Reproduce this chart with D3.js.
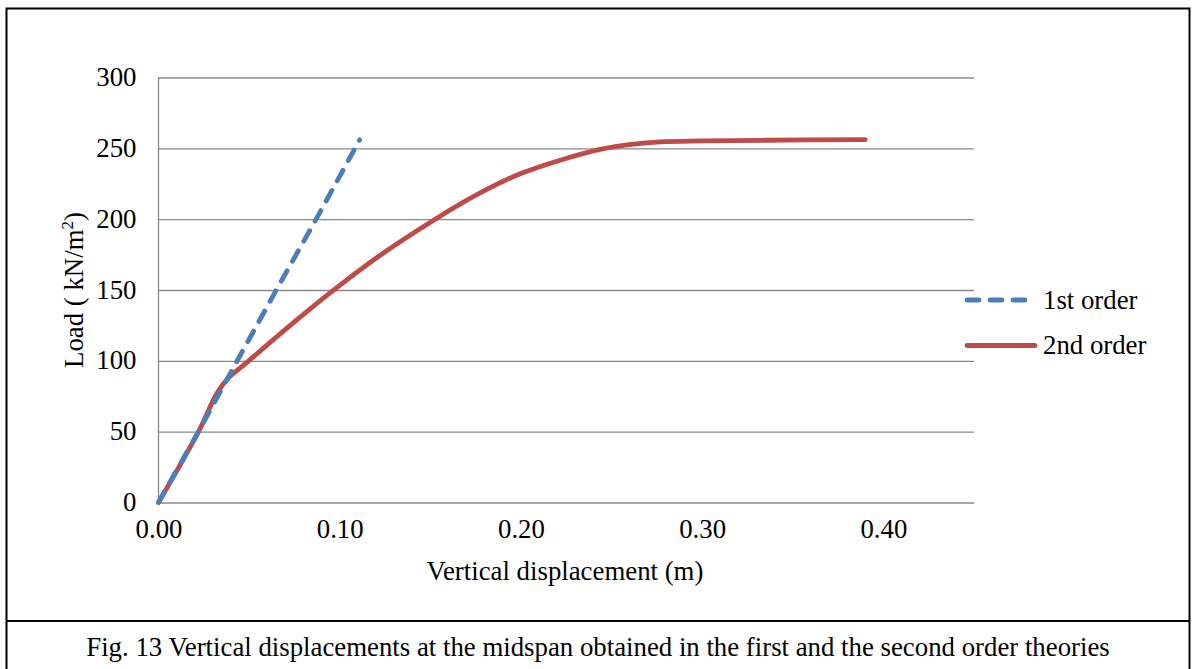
<!DOCTYPE html>
<html>
<head>
<meta charset="utf-8">
<script src="https://cdn.jsdelivr.net/npm/d3@7"></script>
<style>
  body { margin: 0; background: #fff; }
  text { font-family: "Liberation Serif", "Times New Roman", serif; fill: #000; }
</style>
</head>
<body>
<svg id="chart" width="1196" height="669"></svg>
<script>
// values
var firstX  = [0, 0.022, 0.0434, 0.065, 0.087, 0.111];
var firstY  = [0, 50, 100, 150, 200, 256];
var secondX = [0, 0.0221, 0.0322, 0.0386, 0.047, 0.0543, 0.0755, 0.0957, 0.1223, 0.1527, 0.1775, 0.1996, 0.2217, 0.2437, 0.2621, 0.2768, 0.2989, 0.3357, 0.39];
var secondY = [0, 50, 77, 88, 97, 105, 128, 149, 174.5, 200, 218.5, 232, 241.6, 249.2, 252.9, 254.5, 255.2, 255.7, 256.2];
var xTicks  = [0, 0.1, 0.2, 0.3, 0.4];
var yTicks  = [0, 50, 100, 150, 200, 250, 300];
var seriesNames = ["1st order", "2nd order"];

(function(){
var svg = d3.select("#chart");
var fs = 26.8;
var pLeft = 158.5, pRight = 974, pTop = 77.5, pBottom = 502.5;

var x = d3.scaleLinear().domain([0, 0.45]).range([pLeft, pRight]);
var y = d3.scaleLinear().domain([0, 300]).range([pBottom, pTop]);

// frame + caption box
svg.append("rect").attr("x", 6.5).attr("y", 8.5).attr("width", 1183).attr("height", 680)
  .attr("fill", "none").attr("stroke", "#000").attr("stroke-width", 2);
svg.append("line").attr("x1", 6.5).attr("x2", 1189.5).attr("y1", 621).attr("y2", 621)
  .attr("stroke", "#000").attr("stroke-width", 2);

// gridlines via axis
var yAxis = svg.append("g").attr("transform", "translate(" + pLeft + ",0)")
  .call(d3.axisLeft(y).tickValues(yTicks).tickSize(-(pRight - pLeft)).tickPadding(22).tickFormat(d3.format("d")));
yAxis.select(".domain").remove();
yAxis.selectAll(".tick line").attr("stroke", "#888").attr("stroke-width", 1.3);
yAxis.selectAll(".tick text").attr("font-size", fs).attr("font-family", "Liberation Serif").attr("dy", "0.3em");

svg.append("line").attr("x1", pLeft).attr("x2", pLeft).attr("y1", pTop).attr("y2", pBottom)
  .attr("stroke", "#888").attr("stroke-width", 1.3);

var xAxis = svg.append("g").attr("transform", "translate(0," + pBottom + ")")
  .call(d3.axisBottom(x).tickValues(xTicks).tickSize(0).tickPadding(16).tickFormat(d3.format(".2f")));
xAxis.select(".domain").remove();
xAxis.selectAll(".tick text").attr("font-size", fs).attr("font-family", "Liberation Serif");

// titles
svg.append("text").attr("x", 565).attr("y", 580).attr("text-anchor", "middle")
  .attr("font-size", fs).text("Vertical displacement (m)");

var yt = svg.append("text").attr("transform", "translate(83,290) rotate(-90)")
  .attr("text-anchor", "middle").attr("font-size", fs);
yt.append("tspan").text("Load ( kN/m");
yt.append("tspan").attr("font-size", 17).attr("dy", -10).text("2");
yt.append("tspan").attr("dy", 10).text(")");

svg.append("text").attr("x", 598).attr("y", 656).attr("text-anchor", "middle")
  .attr("font-size", fs).text("Fig. 13 Vertical displacements at the midspan obtained in the first and the second order theories");

// series
var line = d3.line().x(function(d){ return x(d[0]); }).y(function(d){ return y(d[1]); });
var first = d3.zip(firstX, firstY);
var second = d3.zip(secondX, secondY);

svg.append("path").datum(second)
  .attr("d", line.curve(d3.curveCatmullRom.alpha(0.5)))
  .attr("fill", "none").attr("stroke", "#be4b48").attr("stroke-width", 4.8).attr("stroke-linecap", "round");

svg.append("path").datum(first)
  .attr("d", line.curve(d3.curveLinear))
  .attr("fill", "none").attr("stroke", "#4a7ebb").attr("stroke-width", 4.8)
  .attr("stroke-linecap", "round").attr("stroke-dasharray", "12,11");

// legend
var legend = svg.append("g");
legend.append("line").attr("x1", 967).attr("x2", 1026).attr("y1", 300).attr("y2", 300)
  .attr("stroke", "#4a7ebb").attr("stroke-width", 4.8).attr("stroke-linecap", "round").attr("stroke-dasharray", "12,11");
legend.append("line").attr("x1", 967).attr("x2", 1035).attr("y1", 345.5).attr("y2", 345.5)
  .attr("stroke", "#be4b48").attr("stroke-width", 4.8).attr("stroke-linecap", "round");
legend.selectAll("text.lg").data(seriesNames).enter().append("text")
  .attr("class", "lg").attr("x", 1043).attr("y", function(d, i){ return 309 + i * 45; })
  .attr("font-size", fs).text(function(d){ return d; });
})();
</script>
</body>
</html>
